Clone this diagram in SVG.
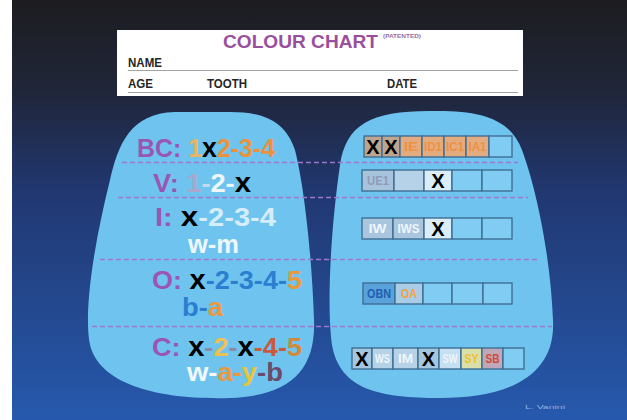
<svg xmlns="http://www.w3.org/2000/svg" width="627" height="420" viewBox="0 0 627 420">
<defs>
<linearGradient id="bg" x1="0" y1="0" x2="0" y2="1">
<stop offset="0" stop-color="#1d1d20"/>
<stop offset="0.22" stop-color="#20263a"/>
<stop offset="0.45" stop-color="#213770"/>
<stop offset="1" stop-color="#2659ad"/>
</linearGradient>
<style>
.big{font-family:"Liberation Sans Narrow","Liberation Sans",Arial,sans-serif;font-weight:bold;font-size:26px}
.xx{font-size:28px;fill:#000}
.p{fill:#9b56b3}
.hd{font-family:"Liberation Sans",Arial,sans-serif;font-weight:bold;font-size:12px;fill:#262626}
.sep{stroke:#9a78cc;stroke-width:1.5;stroke-dasharray:5 3;fill:none}
.cell{stroke:#3f6e94;stroke-width:1.4}
.ct{font-family:"Liberation Sans Narrow","Liberation Sans",Arial,sans-serif;font-weight:bold;font-size:13px;text-anchor:middle}
.cx{font-family:"Liberation Sans",Arial,sans-serif;font-weight:bold;font-size:20px;fill:#000;text-anchor:middle}
.blob{fill:#6fc4ef}
.e{fill:#80ccf2}
</style>
</defs>
<rect x="0" y="0" width="627" height="420" fill="#ffffff"/>
<rect x="12" y="0" width="615" height="420" fill="url(#bg)"/>

<g id="header">
<rect x="117" y="30" width="406" height="66" fill="#ffffff"/>
<text x="223" y="48" textLength="155" lengthAdjust="spacingAndGlyphs" style="font-family:'Liberation Sans',Arial,sans-serif;font-weight:bold;font-size:18px;fill:#9a4f9e">COLOUR  CHART</text>
<text x="383" y="38" textLength="38" lengthAdjust="spacingAndGlyphs" style="font-family:'Liberation Sans',Arial,sans-serif;font-weight:bold;font-size:5px;fill:#9a6fa0">(PATENTED)</text>
<text class="hd" x="128" y="67" textLength="34" lengthAdjust="spacingAndGlyphs">NAME</text>
<line x1="128" y1="70.5" x2="518" y2="70.5" stroke="#8a8a8a" stroke-width="0.8"/>
<text class="hd" x="128" y="88" textLength="25" lengthAdjust="spacingAndGlyphs">AGE</text>
<text class="hd" x="207" y="88" textLength="40" lengthAdjust="spacingAndGlyphs">TOOTH</text>
<text class="hd" x="387" y="88" textLength="30" lengthAdjust="spacingAndGlyphs">DATE</text>
<line x1="128" y1="92.5" x2="518" y2="92.5" stroke="#8a8a8a" stroke-width="0.8"/>
</g>

<g id="left-blob">
<path class="blob" d="M230 112 C262 112 285 120 295 150 C305 190 312 260 314 320 C316 370 290 396 230 398 C160 400 100 385 90 345 C83 310 95 240 110 180 C118 145 130 113 175 112 Z"/>
</g>
<g id="right-blob">
<path class="blob" d="M430 111 C480 110 510 118 522 150 C535 185 550 250 553 320 C556 375 510 398 440 398 C380 398 340 390 332 345 C326 300 332 220 340 165 C346 125 370 111 430 111 Z"/>
</g>

<g id="separators">
<line class="sep" x1="122" y1="162.5" x2="518" y2="162.5"/>
<line class="sep" x1="118" y1="197.5" x2="528" y2="197.5"/>
<line class="sep" x1="100" y1="259.5" x2="540" y2="259.5"/>
<line class="sep" x1="92" y1="326.5" x2="552" y2="326.5"/>
</g>

<g id="row-bc">
<text class="big" x="137" y="157" textLength="138" lengthAdjust="spacingAndGlyphs"><tspan class="p">BC: </tspan><tspan fill="#e9b565">1</tspan><tspan class="xx">x</tspan><tspan fill="#eb923c">2-3-4</tspan></text>
<g class="cells">
<rect class="cell" x="364" y="136" width="18" height="21" fill="#bda58f"/>
<rect class="cell" x="382" y="136" width="18" height="21" fill="#bda58f"/>
<rect class="cell" x="400" y="136" width="22" height="21" fill="#e3ac80"/>
<rect class="cell" x="422" y="136" width="22" height="21" fill="#e3ac80"/>
<rect class="cell" x="444" y="136" width="22" height="21" fill="#e3ac80"/>
<rect class="cell" x="466" y="136" width="23" height="21" fill="#e3ac80"/>
<rect class="cell e" x="489" y="136" width="23" height="21"/>
<text class="cx" x="373" y="154">X</text>
<text class="cx" x="391" y="154">X</text>
<text class="ct" x="411" y="151" fill="#f09040" textLength="14" lengthAdjust="spacingAndGlyphs">IE</text>
<text class="ct" x="433" y="151" fill="#f09040" textLength="18" lengthAdjust="spacingAndGlyphs">ID1</text>
<text class="ct" x="455" y="151" fill="#f09040" textLength="18" lengthAdjust="spacingAndGlyphs">IC1</text>
<text class="ct" x="477.5" y="151" fill="#f09040" textLength="18" lengthAdjust="spacingAndGlyphs">IA1</text>
</g>
</g>

<g id="row-v">
<text class="big" x="153" y="192" textLength="98" lengthAdjust="spacingAndGlyphs"><tspan class="p">V: </tspan><tspan fill="#a9a7cc">1</tspan><tspan fill="#c6d8ee">-</tspan><tspan fill="#eef7fd">2-</tspan><tspan class="xx">x</tspan></text>
<rect class="cell" x="362" y="170" width="32" height="21" fill="#a8c4dc"/>
<rect class="cell" x="394" y="170" width="30" height="21" fill="#b6d2e8"/>
<rect class="cell" x="424" y="170" width="28" height="21" fill="#d9eef9"/>
<rect class="cell e" x="452" y="170" width="30" height="21"/>
<rect class="cell e" x="482" y="170" width="30" height="21"/>
<text class="ct" x="378" y="185" fill="#8e9cb8" textLength="22" lengthAdjust="spacingAndGlyphs">UE1</text>
<text class="cx" x="438" y="188">X</text>
</g>

<g id="row-i">
<text class="big" x="155" y="226" textLength="121" lengthAdjust="spacingAndGlyphs"><tspan class="p">I: </tspan><tspan class="xx">x</tspan><tspan fill="#d6edfb">-2-3-4</tspan></text>
<text class="big" x="188" y="253" textLength="51" lengthAdjust="spacingAndGlyphs" fill="#eef7fe">w-m</text>
<rect class="cell" x="362" y="218" width="31" height="21" fill="#a9c6de"/>
<rect class="cell" x="393" y="218" width="31" height="21" fill="#a9c6de"/>
<rect class="cell" x="424" y="218" width="28" height="21" fill="#d9eef9"/>
<rect class="cell e" x="452" y="218" width="30" height="21"/>
<rect class="cell e" x="482" y="218" width="30" height="21"/>
<text class="ct" x="377.5" y="233" fill="#eef6fc" textLength="18" lengthAdjust="spacingAndGlyphs">IW</text>
<text class="ct" x="408.5" y="233" fill="#eef6fc" textLength="22" lengthAdjust="spacingAndGlyphs">IWS</text>
<text class="cx" x="438" y="236">X</text>
</g>

<g id="row-o">
<text class="big" x="152" y="289" textLength="150" lengthAdjust="spacingAndGlyphs"><tspan class="p">O: </tspan><tspan class="xx">x</tspan><tspan fill="#2a7fd0">-2-3-4-</tspan><tspan fill="#ea983c">5</tspan></text>
<text class="big" x="182" y="316" textLength="41" lengthAdjust="spacingAndGlyphs"><tspan fill="#2a7fd0">b-</tspan><tspan fill="#ea983c">a</tspan></text>
<rect class="cell" x="363" y="283" width="32" height="21" fill="#5aa2dc"/>
<rect class="cell" x="395" y="283" width="28" height="21" fill="#a9cde6"/>
<rect class="cell e" x="423" y="283" width="29" height="21"/>
<rect class="cell e" x="452" y="283" width="31" height="21"/>
<rect class="cell e" x="483" y="283" width="29" height="21"/>
<text class="ct" x="379" y="298" fill="#1f5fb0" textLength="24" lengthAdjust="spacingAndGlyphs">OBN</text>
<text class="ct" x="409" y="298" fill="#f2a23e" textLength="16" lengthAdjust="spacingAndGlyphs">OA</text>
</g>

<g id="row-c">
<text class="big" x="152" y="356" textLength="150" lengthAdjust="spacingAndGlyphs"><tspan class="p">C: </tspan><tspan class="xx">x</tspan><tspan fill="#8c8aa0">-</tspan><tspan fill="#f0c050">2</tspan><tspan fill="#8c8aa0">-</tspan><tspan class="xx">x</tspan><tspan fill="#c85a40">-4-</tspan><tspan fill="#d08a3a">5</tspan></text>
<text class="big" x="187" y="381" textLength="96" lengthAdjust="spacingAndGlyphs"><tspan fill="#f2f8fe">w-</tspan><tspan fill="#ea983c">a-</tspan><tspan fill="#e8c43a">y</tspan><tspan fill="#6b4a6a">-b</tspan></text>
<rect class="cell" x="352" y="348" width="20" height="21" fill="#a4c6de"/>
<rect class="cell" x="372" y="348" width="21" height="21" fill="#b6d2e6"/>
<rect class="cell" x="393" y="348" width="25" height="21" fill="#b6d2e6"/>
<rect class="cell" x="418" y="348" width="21" height="21" fill="#a4c6de"/>
<rect class="cell" x="439" y="348" width="22" height="21" fill="#c4e0f2"/>
<rect class="cell" x="461" y="348" width="21" height="21" fill="#d9dfa8"/>
<rect class="cell" x="482" y="348" width="21" height="21" fill="#c0a8b8"/>
<rect class="cell e" x="503" y="348" width="21" height="21"/>
<text class="cx" x="362" y="366">X</text>
<text class="ct" x="382.5" y="363" fill="#eef6fc" textLength="15" lengthAdjust="spacingAndGlyphs">WS</text>
<text class="ct" x="405.5" y="363" fill="#eef6fc" textLength="15" lengthAdjust="spacingAndGlyphs">IM</text>
<text class="cx" x="428.5" y="366">X</text>
<text class="ct" x="450" y="363" fill="#eef6fc" textLength="15" lengthAdjust="spacingAndGlyphs">SW</text>
<text class="ct" x="471.5" y="363" fill="#f0c030" textLength="14" lengthAdjust="spacingAndGlyphs">SY</text>
<text class="ct" x="492.5" y="363" fill="#d04a3a" textLength="14" lengthAdjust="spacingAndGlyphs">SB</text>
</g>

<g id="credit">
<text x="525" y="409" textLength="40" lengthAdjust="spacingAndGlyphs" style="font-family:'Liberation Sans',Arial,sans-serif;font-size:6px;fill:#8fb4e0">L. Vanini</text>
</g>
</svg>
